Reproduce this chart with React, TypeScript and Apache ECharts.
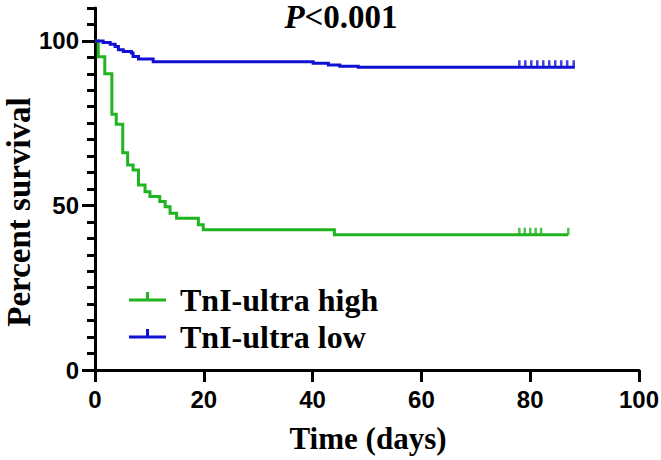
import React, { useEffect, useRef } from "react";
import * as echarts from "echarts";

// ---- data ----
const seriesNames = ["TnI-ultra high", "TnI-ultra low"];
const seriesColors = ["#20B420", "#1010D4"];

const highTimes = [0, 0.6, 1.8, 3.1, 3.9, 5.1, 6.0, 7.0, 8.0, 9.2, 10.1, 11.9, 12.9, 13.8, 15.0, 19.0, 19.9, 44.0, 87.0];
const highSurv = [100, 95.2, 90.0, 77.7, 74.7, 66.0, 62.3, 60.8, 56.2, 54.2, 52.7, 51.2, 49.6, 47.6, 46.1, 44.1, 42.6, 41.1, 41.1];
const highCensorTimes = [78.0, 79.0, 80.0, 81.0, 82.0, 87.0];
const highCensorSurv = [41.1, 41.1, 41.1, 41.1, 41.1, 41.1];

const lowTimes = [0, 1.5, 2.8, 3.7, 4.3, 5.2, 6.7, 7.0, 8.0, 10.7, 40.1, 42.9, 45.0, 48.4, 88.2];
const lowSurv = [100, 99.5, 99.0, 98.3, 97.3, 96.8, 96.3, 95.3, 94.5, 93.7, 93.2, 92.7, 92.3, 92.0, 92.0];
const lowCensorTimes = [78.0, 79.1, 80.2, 81.3, 82.4, 83.5, 84.6, 85.7, 86.8, 88.0];
const lowCensorSurv = [92.0, 92.0, 92.0, 92.0, 92.0, 92.0, 92.0, 92.0, 92.0, 92.0];

const xTicks = [0, 20, 40, 60, 80, 100];
const yMajorTicks = [0, 50, 100];
const yMax = 110;
const xMax = 100;
const pText = "<0.001";
const xTitle = "Time (days)";
const yTitle = "Percent survival";

const SERIF = "'Liberation Serif', 'Times New Roman', serif";
const SANS = "'Liberation Sans', Arial, sans-serif";

function zip(a: number[], b: number[]) {
  return a.map((v, i) => [v, b[i]]);
}

export default function App() {
  const ref = useRef<HTMLDivElement>(null);

  useEffect(() => {
    if (!ref.current) return;
    const chart = echarts.init(ref.current, null, { renderer: "svg" });

    const axisLineStyle = { color: "#000", width: 3 };
    const tickLabelStyle = { color: "#000", fontFamily: SANS, fontWeight: "bold" as const, fontSize: 24 };

    const lineSeries = [
      { name: seriesNames[0], times: highTimes, surv: highSurv, color: seriesColors[0] },
      { name: seriesNames[1], times: lowTimes, surv: lowSurv, color: seriesColors[1] },
    ].map((s) => ({
      type: "line",
      name: s.name,
      step: "end",
      data: zip(s.times, s.surv),
      showSymbol: false,
      symbol: "none",
      lineStyle: { color: s.color, width: 3, cap: "butt", join: "miter" },
      itemStyle: { color: s.color },
      xAxisIndex: 0,
      yAxisIndex: 0,
      z: 3,
    }));

    const censorSeries = [
      { name: seriesNames[0], times: highCensorTimes, surv: highCensorSurv, color: seriesColors[0] },
      { name: seriesNames[1], times: lowCensorTimes, surv: lowCensorSurv, color: seriesColors[1] },
    ].map((s) => ({
      type: "scatter",
      name: s.name + " censored",
      data: zip(s.times, s.surv),
      symbol: "rect",
      symbolSize: [2.5, 7],
      symbolOffset: [0, -3.5],
      itemStyle: { color: s.color },
      xAxisIndex: 0,
      yAxisIndex: 0,
      z: 4,
    }));

    const legendRows = [300, 337];
    const legendGraphics = seriesNames.map((name, i) => ({
      type: "group",
      children: [
        { type: "rect", shape: { x: 129, y: legendRows[i] - 1.5, width: 37, height: 3 }, style: { fill: seriesColors[i] } },
        { type: "rect", shape: { x: 146, y: legendRows[i] - 8, width: 3, height: 7 }, style: { fill: seriesColors[i] } },
        {
          type: "text",
          x: 180,
          y: legendRows[i],
          style: {
            text: name,
            fill: "#000",
            font: `bold 32px ${SERIF}`,
            verticalAlign: "middle",
            align: "left",
          },
        },
      ],
    }));

    chart.setOption({
      animation: false,
      backgroundColor: "#fff",
      grid: { left: 95, right: 22, top: 8, bottom: 90, containLabel: false, outerBoundsMode: "none" },
      xAxis: [
        {
          type: "value",
          min: 0,
          max: xMax,
          interval: 20,
          axisLine: { show: true, lineStyle: axisLineStyle },
          axisTick: { show: true, length: 12, lineStyle: { color: "#000", width: 3 } },
          axisLabel: { ...tickLabelStyle, margin: 17, customValues: xTicks },
          splitLine: { show: false },
        },
      ],
      yAxis: [
        {
          type: "value",
          min: 0,
          max: yMax,
          interval: 5,
          axisLine: { show: true, lineStyle: axisLineStyle },
          axisTick: { show: true, length: 8, lineStyle: { color: "#000", width: 3 } },
          axisLabel: { show: false },
          splitLine: { show: false },
        },
        {
          type: "value",
          min: 0,
          max: yMax,
          interval: 50,
          position: "left",
          axisLine: { show: false },
          axisTick: { show: true, length: 13, customValues: yMajorTicks, lineStyle: { color: "#000", width: 3 } },
          axisLabel: { ...tickLabelStyle, margin: 16, customValues: yMajorTicks },
          splitLine: { show: false },
        },
      ],
      series: [...lineSeries, ...censorSeries],
      graphic: [
        {
          type: "text",
          x: 341,
          y: 0,
          style: {
            text: `{i|P}{n|${pText}}`,
            align: "center",
            verticalAlign: "top",
            rich: {
              i: { font: `italic bold 33px ${SERIF}`, fill: "#000" },
              n: { font: `bold 33px ${SERIF}`, fill: "#000" },
            },
          },
        },
        {
          type: "text",
          x: 19,
          y: 212,
          rotation: Math.PI / 2,
          style: {
            text: yTitle,
            font: `bold 33px ${SERIF}`,
            fill: "#000",
            align: "center",
            verticalAlign: "middle",
          },
        },
        {
          type: "text",
          x: 368,
          y: 438,
          style: {
            text: xTitle,
            font: `bold 31px ${SERIF}`,
            fill: "#000",
            align: "center",
            verticalAlign: "middle",
          },
        },
        ...legendGraphics,
      ],
    });

    return () => {
      chart.dispose();
    };
  }, []);

  return (
    <div
      ref={ref}
      style={{ position: "fixed", left: 0, top: 0, width: 661, height: 460, background: "#fff" }}
    />
  );
}
